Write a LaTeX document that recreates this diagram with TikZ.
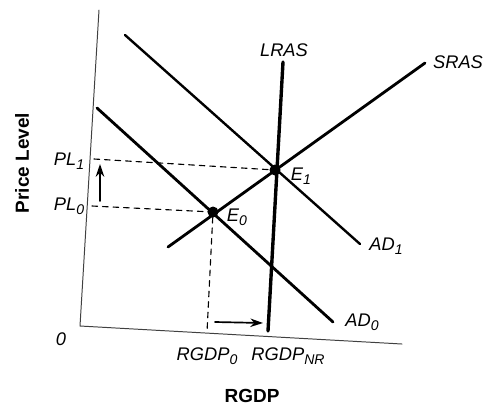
\documentclass[tikz,border=0pt]{standalone}
\usepackage{fontspec}
\setmainfont{Liberation Sans}
\usepackage{tikz}
\usetikzlibrary{arrows.meta}
\newcommand{\lsub}[1]{\raisebox{-0.4ex}{\fontsize{10}{12}\selectfont #1}}
\tikzset{
  every picture/.style={line join=round, line cap=round, >=Stealth},
  curve/.style={line width=2pt},
  lras/.style={line width=2.4pt},
  axis/.style={line width=0.7pt, black!75},
  guide/.style={line width=0.8pt, dash pattern=on 4pt off 3.5pt},
  movearrow/.style={line width=1.2pt, -{Stealth[length=9pt,width=6pt]}},
  lbl/.style={font=\fontsize{13}{15}\selectfont\itshape, inner sep=1pt},
  ttl/.style={font=\fontsize{13.5}{15}\selectfont\bfseries, inner sep=1pt},
}

\begin{document}
\begin{tikzpicture}[x=0.025cm,y=-0.025cm]
\useasboundingbox (0,0) rectangle (484,408);
% axes
\coordinate (ytop) at (99,10);
\coordinate (orig) at (80,326);
\coordinate (xend) at (402,344);
\draw[axis] (ytop) -- (orig) -- (xend);
% equilibria and curve ends
\coordinate (E0) at (213,212);
\coordinate (E1) at (275,170);
\coordinate (pl1) at (94,159);
\coordinate (pl0) at (92,206);
\coordinate (rgdp0) at (207,332);
\coordinate (lrasT) at (283,62);
\coordinate (lrasB) at (268,331);
\coordinate (srasA) at (168,247);
\coordinate (srasB) at (425,63);
\coordinate (adzA) at (97,108);
\coordinate (adzB) at (333,322);
\coordinate (adoA) at (125,35);
\coordinate (adoB) at (360,244);
\draw[guide] (pl1) -- (E1);
\draw[guide] (pl0) -- (E0) -- (rgdp0);
\draw[curve] (adzA) -- (adzB);
\draw[curve, line width=1.7pt] (adoA) -- (adoB);
\draw[curve] (srasA) -- (srasB);
\draw[lras] (lrasT) -- (lrasB);
\fill (E0) circle[radius=5.5];
\fill (E1) circle[radius=5.5];
% shift arrows
\coordinate (upA) at (100,201);
\coordinate (upB) at (100,164);
\coordinate (rtA) at (215,322);
\coordinate (rtB) at (263,323);
\draw[movearrow] (upA) -- (upB);
\draw[movearrow] (rtA) -- (rtB);
% labels
\node[lbl] (lLRAS) at (284,50) {LRAS};
\node[lbl] (lSRAS) at (458,62) {SRAS};
\node[lbl] (lAD1) at (386,246) {AD\lsub{1}};
\node[lbl] (lAD0) at (362,322) {AD\lsub{0}};
\node[lbl] (lE1) at (301,176) {E\lsub{1}};
\node[lbl] (lE0) at (237,217) {E\lsub{0}};
\node[lbl] (lPL1) at (69,161) {PL\lsub{1}};
\node[lbl] (lPL0) at (69,206) {PL\lsub{0}};
\node[lbl] (lO) at (61,339) {0};
\node[lbl] (lR0) at (207,356) {RGDP\lsub{0}};
\node[lbl] (lRNR) at (288,356) {RGDP\lsub{NR}};
\node[ttl] (lRGDP) at (252,396) {RGDP};
\node[ttl, rotate=90] (lPL) at (22,163) {Price Level};
\end{tikzpicture}
\end{document}
